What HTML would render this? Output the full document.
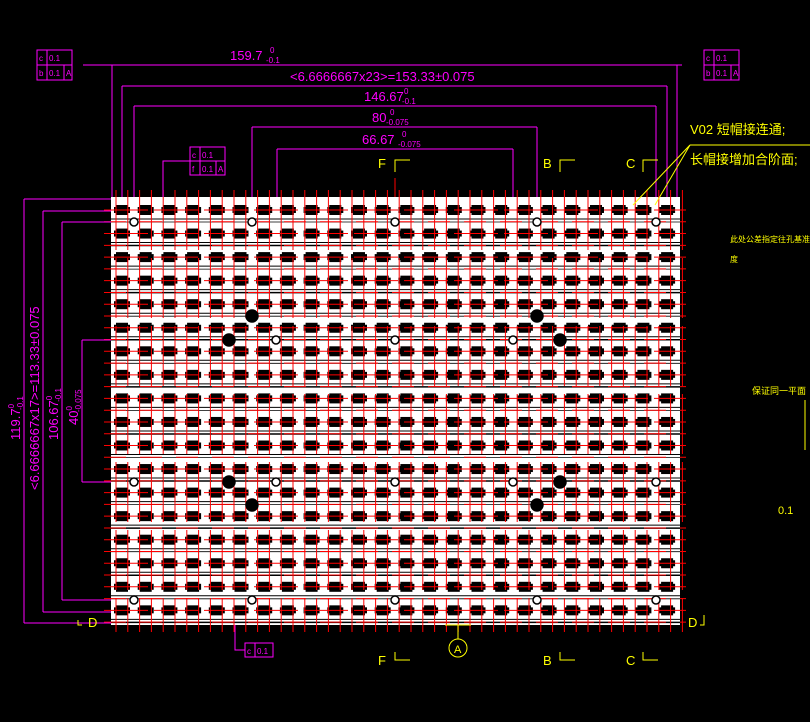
<!DOCTYPE html>
<html><head><meta charset="utf-8"><style>
html,body{margin:0;padding:0;background:#000;width:810px;height:722px;overflow:hidden}
svg{display:block}
text{font-family:"Liberation Sans","Noto Sans CJK SC",sans-serif}
</style></head><body>
<svg id="s" width="810" height="722" viewBox="0 0 810 722" xmlns="http://www.w3.org/2000/svg">
<rect width="810" height="722" fill="#000"/>
<g id="board"></g>
<g stroke="#f0f" stroke-width="1" fill="none">
<line x1="83" y1="65" x2="682" y2="65"/><line x1="112" y1="65" x2="112" y2="197"/><line x1="677" y1="65" x2="677" y2="197"/>
<line x1="122" y1="86" x2="667" y2="86"/><line x1="122" y1="86" x2="122" y2="197"/><line x1="667" y1="86" x2="667" y2="197"/>
<line x1="134" y1="106" x2="656" y2="106"/><line x1="134" y1="106" x2="134" y2="197"/><line x1="656" y1="106" x2="656" y2="197"/>
<line x1="252" y1="127" x2="537" y2="127"/><line x1="252" y1="127" x2="252" y2="197"/><line x1="537" y1="127" x2="537" y2="197"/>
<line x1="277" y1="149" x2="513" y2="149"/><line x1="277" y1="149" x2="277" y2="197"/><line x1="513" y1="149" x2="513" y2="197"/>
<line x1="24" y1="199" x2="24" y2="623"/><line x1="24" y1="199" x2="111" y2="199"/><line x1="24" y1="623" x2="111" y2="623"/>
<line x1="43" y1="211" x2="43" y2="612"/><line x1="43" y1="211" x2="111" y2="211"/><line x1="43" y1="612" x2="111" y2="612"/>
<line x1="62" y1="222" x2="62" y2="600"/><line x1="62" y1="222" x2="111" y2="222"/><line x1="62" y1="600" x2="111" y2="600"/>
<line x1="82" y1="340" x2="82" y2="482"/><line x1="82" y1="340" x2="111" y2="340"/><line x1="82" y1="482" x2="111" y2="482"/>
<rect x="37" y="50" width="35" height="30"/><line x1="37" y1="65" x2="72" y2="65"/><line x1="47" y1="50" x2="47" y2="80"/><line x1="64" y1="65" x2="64" y2="80"/>
<rect x="704" y="50" width="35" height="30"/><line x1="704" y1="65" x2="739" y2="65"/><line x1="714" y1="50" x2="714" y2="80"/><line x1="731" y1="65" x2="731" y2="80"/>
<rect x="190" y="147" width="35" height="28"/><line x1="190" y1="161" x2="225" y2="161"/><line x1="200" y1="147" x2="200" y2="175"/><line x1="216" y1="161" x2="216" y2="175"/>
<polyline points="190,161 163,161 163,197"/>
<rect x="245" y="643" width="28" height="14"/><line x1="255" y1="643" x2="255" y2="657"/><polyline points="245,650 235,650 235,625"/>
</g>
<g fill="#f0f" font-size="13">
<text x="230" y="60">159.7</text><text x="270" y="53" font-size="8">0</text><text x="266" y="63" font-size="8">-0.1</text>
<text x="290" y="81">&lt;6.6666667x23&gt;=153.33±0.075</text>
<text x="364" y="101">146.67</text><text x="404" y="94" font-size="8">0</text><text x="402" y="104" font-size="8">-0.1</text>
<text x="372" y="122">80</text><text x="390" y="115" font-size="8">0</text><text x="386" y="125" font-size="8">-0.075</text>
<text x="362" y="144">66.67</text><text x="402" y="137" font-size="8">0</text><text x="398" y="147" font-size="8">-0.075</text>
<g font-size="8"><text x="39" y="61">c</text><text x="49" y="61">0.1</text><text x="39" y="76">b</text><text x="49" y="76">0.1</text><text x="66" y="76">A</text>
<text x="706" y="61">c</text><text x="716" y="61">0.1</text><text x="706" y="76">b</text><text x="716" y="76">0.1</text><text x="733" y="76">A</text>
<text x="192" y="158">c</text><text x="202" y="158">0.1</text><text x="192" y="172">f</text><text x="202" y="172">0.1</text><text x="218" y="172">A</text>
<text x="247" y="654">c</text><text x="257" y="654">0.1</text></g>
<text transform="translate(20,440) rotate(-90)">119.7<tspan font-size="8" dy="-6">0</tspan><tspan font-size="8" dx="-6" dy="9">-0.1</tspan></text>
<text transform="translate(39,490) rotate(-90)">&lt;6.6666667x17&gt;=113.33±0.075</text>
<text transform="translate(58,440) rotate(-90)">106.67<tspan font-size="8" dy="-6">0</tspan><tspan font-size="8" dx="-6" dy="9">-0.1</tspan></text>
<text transform="translate(78,425) rotate(-90)">40<tspan font-size="8" dy="-6">0</tspan><tspan font-size="8" dx="-6" dy="9">-0.075</tspan></text>
</g>
<g fill="#ff0" stroke="none" font-size="13">
<text x="690" y="134">V02  短帽接连通;</text>
<text x="690" y="164">长帽接增加合阶面;</text>
<text x="378" y="168">F</text><text x="543" y="168">B</text><text x="626" y="168">C</text>
<text x="378" y="665">F</text><text x="543" y="665">B</text><text x="626" y="665">C</text>
<text x="88" y="627">D</text><text x="688" y="627">D</text>
<text x="454" y="653" font-size="11">A</text>
<text x="730" y="242" font-size="8">此处公差指定往孔基准平面</text>
<text x="730" y="262" font-size="8">度</text>
<text x="752" y="394" font-size="9">保证同一平面</text>
<text x="778" y="514" font-size="11">0.1</text>
</g>
<g stroke="#ff0" fill="none">
<line x1="690" y1="145" x2="810" y2="145"/><line x1="690" y1="145" x2="633" y2="205"/><line x1="690" y1="145" x2="655" y2="205"/>
<polyline points="395,172 395,160 410,160"/><polyline points="560,172 560,160 575,160"/><polyline points="643,172 643,160 658,160"/>
<polyline points="395,652 395,660 410,660"/><polyline points="560,652 560,660 575,660"/><polyline points="643,652 643,660 658,660"/>
<circle cx="458" cy="648" r="9"/><line x1="458" y1="625" x2="458" y2="639"/><line x1="445" y1="625" x2="471" y2="625"/>
<polyline points="78,620 78,625 82,625"/><polyline points="704,615 704,625 700,625"/>
<line x1="805" y1="400" x2="805" y2="450"/>
</g>
<line x1="395" y1="178" x2="395" y2="197" stroke="#f00"/>
</svg>
<script>
var g=document.getElementById('board'),h='';
h+='<rect x="111" y="197" width="569" height="428" fill="#fff"/>';
var rows=[],cols=[];
for(var j=0;j<18;j++)rows.push(210+j*23.55);
for(var i=0;i<24;i++)cols.push(122+i*23.7);
for(var j=0;j<18;j++){var y=rows[j];
 h+='<line x1="111" x2="680" y1="'+(y+9)+'" y2="'+(y+9)+'" stroke="#000" stroke-width="1"/>';
 h+='<line x1="111" x2="680" y1="'+(y+12)+'" y2="'+(y+12)+'" stroke="#000" stroke-width="'+(j%2?1.5:0.8)+'"/>';
 for(var i=0;i<24;i++){var x=cols[i];
  h+='<rect x="'+(x-6)+'" y="'+(y-5)+'" width="12" height="10" fill="#000"/>';
  h+='<rect x="'+(x-8)+'" y="'+(y-3)+'" width="16" height="6" fill="#000"/>';}
}
for(var j=0;j<18;j++){var y=rows[j];
 h+='<line x1="104" x2="686" y1="'+y+'" y2="'+y+'" stroke="#f00" stroke-width="1" stroke-dasharray="44 6"/>';
 h+='<line x1="104" x2="686" y1="'+(y+11.8)+'" y2="'+(y+11.8)+'" stroke="#f00" stroke-width="1" stroke-dasharray="22 14"/>';}
for(var k=0;k<49;k++){var x=116+k*11.8;h+='<line y1="190" y2="632" x1="'+x+'" x2="'+x+'" stroke="#f00" stroke-width="1" stroke-dasharray="60 8"/>';}
var c=[[134,222],[252,222],[395,222],[537,222],[656,222],[252,316],[537,316],[229,340],[276,340],[395,340],[513,340],[560,340],[134,482],[229,482],[276,482],[395,482],[513,482],[560,482],[656,482],[252,505],[537,505],[134,600],[252,600],[395,600],[537,600],[656,600]];
c.forEach(function(p){var big=(p[1]==316||p[1]==505||p[0]==229||p[0]==560);h+='<circle cx="'+p[0]+'" cy="'+p[1]+'" r="'+(big?6:4)+'" fill="'+(big?'#000':'#fff')+'" stroke="#000" stroke-width="1.5"/>';});
g.innerHTML=h;
</script>
</body></html>
